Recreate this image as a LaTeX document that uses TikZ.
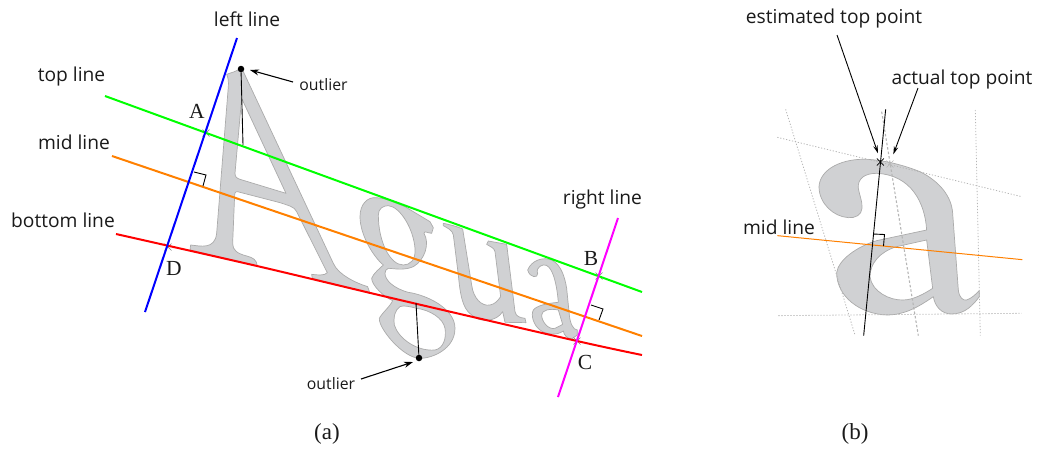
\documentclass[tikz,border=0pt]{standalone}
\usepackage{fontspec}
\setmainfont{Open Sans}
\newfontfamily\serifl{Liberation Serif}
\usetikzlibrary{arrows.meta}
\tikzset{
 glyph/.style={fill=glyphfill,draw=glyphedge,line width=0.7pt,even odd rule,line join=round},
 lbl/.style={inner sep=0pt,font=\fontsize{19.2}{22}\selectfont,text=txt},
 smalllbl/.style={inner sep=0pt,font=\fontsize{15.8}{18}\selectfont,text=txt},
 ptlbl/.style={inner sep=0pt,font=\serifl\fontsize{21.5}{24}\selectfont,text=txt},
 captlbl/.style={inner sep=0pt,font=\serifl\fontsize{23}{26}\selectfont,text=txt},
 fit line/.style={line width=2pt},
 thin black/.style={line width=0.9pt,black},
 arr/.style={line width=1.1pt,black,-{Stealth[length=9pt,width=6pt]}},
 arrb/.style={line width=0.9pt,black,-{Stealth[length=8pt,width=4.5pt]}},
 dotline/.style={line width=0.8pt,dotlinecol,dash pattern=on 1.2pt off 1.8pt},
 dashline/.style={line width=1.1pt,dotlinecol,dash pattern=on 2.5pt off 2pt},
 cross/.style={line width=0.6pt,gray},
 dotmark/.style={circle,fill=black,inner sep=0pt,minimum size=6.5pt},
}
\definecolor{glyphfill}{HTML}{D0D1D3}
\definecolor{glyphedge}{HTML}{ABABAB}
\definecolor{txt}{HTML}{1A1A1A}
\definecolor{dotlinecol}{HTML}{B5B5B5}
\definecolor{lgreen}{HTML}{00FF00}
\definecolor{lorange}{HTML}{FF8000}
\definecolor{lmag}{HTML}{FF00FF}
\newcommand{\markx}[2]{\draw[#2] ([shift={(-3.5,-3.5)}]#1) -- ([shift={(3.5,3.5)}]#1) ([shift={(-3.5,3.5)}]#1) -- ([shift={(3.5,-3.5)}]#1);}
\begin{document}
\begin{tikzpicture}[x=1pt,y=-1pt]
\useasboundingbox (0,0) rectangle (1038,448);
% ---- glyph A
\begin{scope}[shift={(100,30)},x=0.3333pt,y=-0.3333pt]
\path[glyph] (380,133) .. controls (392,128) and (410,126) .. (424,112)
 -- (700,700) .. controls (715,735) and (770,760) .. (803,770) -- (810,790)
 -- (637,745) -- (635,733) .. controls (650,735) and (675,738) .. (682,728)
 -- (590,545) .. controls (585,530) and (560,525) .. (540,518)
 -- (420,487) .. controls (410,483) and (404,485) .. (404,495)
 -- (398,640) .. controls (398,660) and (410,670) .. (440,678)
 .. controls (460,683) and (470,690) .. (472,708)
 -- (270,660) -- (272,645) .. controls (300,648) and (345,660) .. (350,610)
 -- (385,170) .. controls (386,155) and (385,145) .. (380,133) -- cycle
 (425,205) -- (558,490) -- (420,448) .. controls (410,445) and (405,440) .. (405,430) -- cycle;
\end{scope}
% ---- glyph g
\begin{scope}[shift={(350,185)},x=0.3333pt,y=-0.3333pt]
\path[glyph] (30,95) .. controls (30,60) and (50,35) .. (80,38)
 .. controls (110,40) and (140,55) .. (165,65)
 -- (240,110) -- (250,128) -- (245,145) -- (235,143)
 .. controls (225,140) and (222,140) .. (222,145)
 .. controls (240,175) and (225,225) .. (190,245)
 .. controls (160,258) and (130,250) .. (115,250)
 .. controls (108,252) and (105,258) .. (105,265)
 .. controls (105,285) and (130,310) .. (175,322)
 .. controls (230,330) and (315,370) .. (315,430)
 .. controls (315,490) and (250,520) .. (210,520)
 .. controls (160,520) and (85,430) .. (88,400)
 .. controls (95,385) and (120,365) .. (128,347)
 .. controls (100,335) and (65,300) .. (65,280)
 .. controls (70,265) and (90,250) .. (100,240)
 .. controls (70,215) and (30,150) .. (30,95) -- cycle
 (85,90) .. controls (85,70) and (100,62) .. (115,62)
 .. controls (150,65) and (190,130) .. (195,190)
 .. controls (198,225) and (180,240) .. (160,240)
 .. controls (120,240) and (85,170) .. (85,90) -- cycle
 (150,365) .. controls (135,375) and (130,395) .. (133,420)
 .. controls (145,460) and (200,500) .. (255,495)
 .. controls (280,490) and (290,460) .. (285,430)
 .. controls (280,400) and (240,375) .. (200,370)
 .. controls (180,365) and (160,360) .. (150,365) -- cycle;
\end{scope}
% ---- glyphs u, a
\begin{scope}[shift={(440,215)},x=0.3333pt,y=-0.3333pt]
\path[glyph] (10,25) .. controls (25,28) and (45,32) .. (68,42)
 -- (95,210) .. controls (100,250) and (125,275) .. (150,270)
 .. controls (165,268) and (175,255) .. (182,245)
 -- (165,110) .. controls (163,98) and (150,95) .. (140,88) -- (145,78)
 -- (200,88) -- (225,290) .. controls (228,305) and (240,308) .. (255,310)
 -- (258,323) -- (195,322) -- (188,290)
 .. controls (170,320) and (120,325) .. (95,300)
 .. controls (65,280) and (60,230) .. (55,180)
 -- (40,60) .. controls (38,45) and (20,38) .. (10,32) -- cycle;
\path[glyph] (263,165) .. controls (275,135) and (310,125) .. (335,135)
 .. controls (365,150) and (375,190) .. (380,220)
 -- (388,300) .. controls (390,325) and (400,345) .. (412,345)
 -- (412,360) -- (395,372) .. controls (380,370) and (372,360) .. (370,348)
 .. controls (350,362) and (320,360) .. (300,345)
 .. controls (280,330) and (272,300) .. (280,285)
 .. controls (290,272) and (320,265) .. (355,262)
 .. controls (350,200) and (335,145) .. (310,150)
 .. controls (290,155) and (290,170) .. (293,175)
 .. controls (295,190) and (270,190) .. (263,165) -- cycle
 (355,285) .. controls (330,280) and (305,285) .. (305,300)
 .. controls (305,320) and (325,345) .. (345,340)
 .. controls (355,335) and (365,330) .. (368,328) -- cycle;
\end{scope}
% ---- glyph a, panel b
\begin{scope}[shift={(770,90)},x=0.3333pt,y=-0.3333pt]
\path[glyph] (147,290) .. controls (150,235) and (220,205) .. (290,208)
 .. controls (340,210) and (400,225) .. (450,245)
 .. controls (510,275) and (545,320) .. (548,370)
 -- (565,600) .. controls (568,625) and (580,632) .. (590,630)
 .. controls (605,625) and (618,612) .. (628,602) -- (628,620)
 .. controls (610,645) and (585,672) .. (545,672)
 .. controls (515,672) and (495,650) .. (490,620)
 .. controls (440,655) and (400,675) .. (350,675)
 .. controls (270,672) and (200,620) .. (200,548)
 .. controls (205,510) and (260,470) .. (320,452)
 -- (470,420) .. controls (465,340) and (425,255) .. (320,250)
 .. controls (285,250) and (262,265) .. (265,295)
 .. controls (268,315) and (278,335) .. (276,355)
 .. controls (275,375) and (255,385) .. (235,383)
 .. controls (190,380) and (147,340) .. (147,290) -- cycle
 (470,450) -- (380,470) .. controls (330,485) and (300,520) .. (300,560)
 .. controls (305,605) and (360,632) .. (400,630)
 .. controls (430,630) and (465,610) .. (488,595) -- cycle;
\end{scope}
% ---- panel (a) named points
\coordinate (L1) at (237,38); \coordinate (L2) at (145,312);
\coordinate (R1) at (618,218); \coordinate (R2) at (558,397);
\coordinate (T1) at (105,96); \coordinate (T2) at (642,292);
\coordinate (M1) at (112,156); \coordinate (M2) at (642,336);
\coordinate (A) at (206,133); \coordinate (B) at (599,276);
\coordinate (C) at (577,341); \coordinate (D) at (168,247);
\markx{A}{cross}\markx{B}{cross}\markx{C}{cross}\markx{D}{cross}
\draw[fit line,lgreen] (T1) -- (T2);
\draw[fit line,lorange] (M1) -- (M2);
\draw[fit line,red] plot[smooth,tension=0.5] coordinates {(116,234) (257,266) (400,300) (577,341) (642,355)};
\draw[fit line,blue] (L1) -- (L2);
\draw[fit line,lmag] (R1) -- (R2);
% right-angle marks
\draw[thin black] (194,172) -- (206,175) -- (203,186);
\draw[thin black] (591,305) -- (603,309) -- (599,320);
% outliers
\node[dotmark] (o1) at (241,69) {};
\coordinate (o1f) at (243,145);
\draw[thin black] (o1) -- (o1f);
\node[dotmark] (o2) at (419,358) {};
\coordinate (o2f) at (416,303);
\draw[thin black] (o2) -- (o2f);
\node[smalllbl] (ol1) at (323.5,85) {outlier};
\node[smalllbl] (ol2) at (331,384) {outlier};
\coordinate (o1s) at (293,82); \coordinate (o1e) at (250,70);
\coordinate (o2s) at (361,379); \coordinate (o2e) at (413,362);
\draw[arr] (o1s) -- (o1e);
\draw[arr] (o2s) -- (o2e);
% labels
\node[lbl] (ll) at (247,19) {left line};
\node[lbl] (tl) at (71.5,77) {top line};
\node[lbl] (ml) at (74,142) {mid line};
\node[lbl] (bl) at (63,220) {bottom line};
\node[lbl] (rl) at (602.5,200) {right line};
\node[ptlbl] (pa) at (197,111) {A};
\node[ptlbl] (pb) at (591,258) {B};
\node[ptlbl] (pc) at (585,362) {C};
\node[ptlbl] (pd) at (174,268) {D};
\node[captlbl] (capa) at (327,434) {(a)};
\node[captlbl] (capb) at (855,434) {(b)};
% ---- panel (b)
\begin{scope}[shift={(770,90)},x=0.3333pt,y=-0.3333pt]
\coordinate (b1) at (22,142); \coordinate (b2) at (755,320);
\coordinate (b3) at (47,58); \coordinate (b4) at (255,735);
\coordinate (b5) at (616,60); \coordinate (b6) at (631,737);
\coordinate (b7) at (25,677); \coordinate (b8) at (755,670);
\coordinate (b9) at (335,65); \coordinate (b10) at (445,737);
\coordinate (b11) at (347,58); \coordinate (b12) at (281,737);
\coordinate (b13) at (22,437); \coordinate (b14) at (757,509);
\coordinate (est) at (331,216); \coordinate (act) at (360,222);
\coordinate (arre) at (324,190); \coordinate (arrf) at (370,193);
\end{scope}
\draw[dotline] (b1) -- (b2);
\draw[dotline] (b3) -- (b4);
\draw[dotline] (b5) -- (b6);
\draw[dotline] (b7) -- (b8);
\draw[dashline] (b9) -- (b10);
\draw[line width=1pt,lorange] (b13) -- (b14);
\draw[thin black] (b11) -- (b12);
\draw[thin black] (873,234) -- (884.5,234.5) -- (883.5,246);
\markx{act}{line width=0.6pt,dotlinecol}
\draw[line width=0.8pt,black] ([shift={(-3.5,-3.5)}]est) -- ([shift={(3.5,3.5)}]est) ([shift={(-3.5,3.5)}]est) -- ([shift={(3.5,-3.5)}]est);
\node[lbl] (etp) at (834,19) {estimated top point};
\node[lbl] (atp) at (962,80) {actual top point};
\node[lbl] (mlb) at (779,227) {mid line};
\coordinate (es) at (837,35); \coordinate (as) at (918,88);
\draw[arrb] (es) -- (arre);
\draw[arrb] (as) -- (arrf);
\end{tikzpicture}
\end{document}
